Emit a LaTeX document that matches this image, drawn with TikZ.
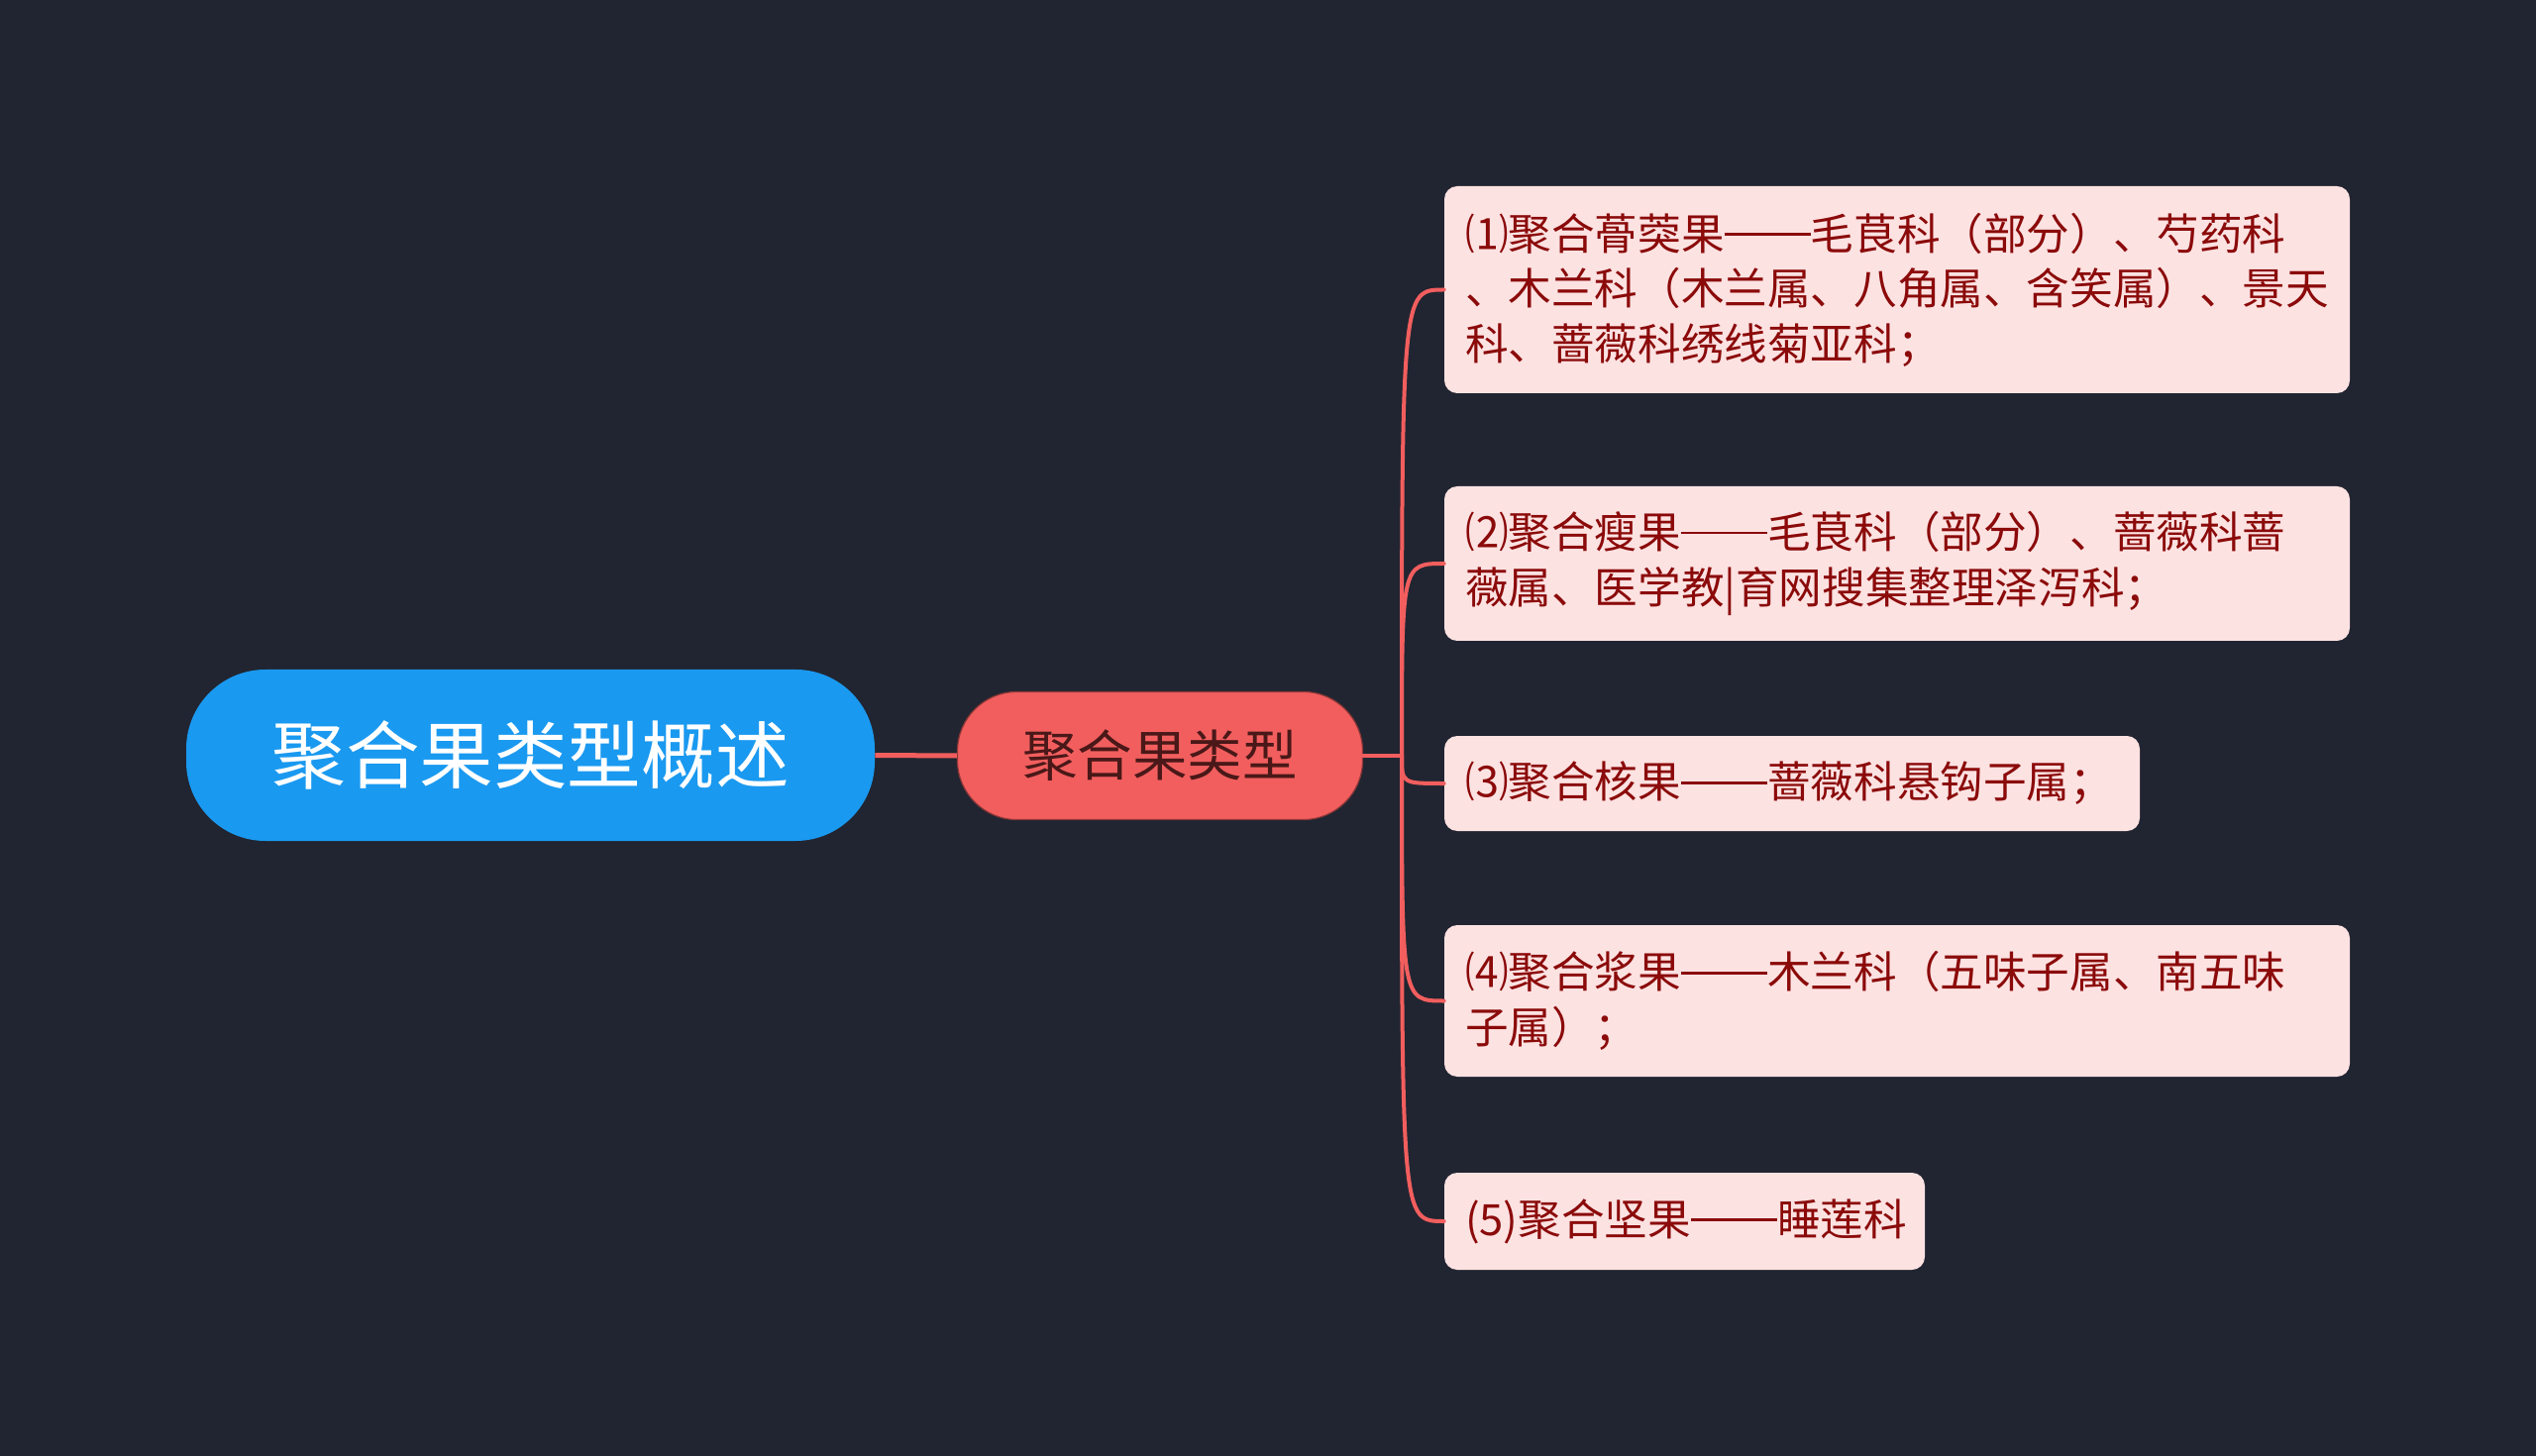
\documentclass[tikz,border=0pt]{standalone}
\usepackage{fontspec}
\newfontfamily\cjk{Noto Sans CJK SC}
\newcommand\ddash{\rule[0.33em]{2em}{0.055em}}
\definecolor{bgc}{HTML}{212531}
\definecolor{rootc}{HTML}{1A99F0}
\definecolor{mainc}{HTML}{F25E5E}
\definecolor{maintext}{HTML}{4A1818}
\definecolor{leaffill}{HTML}{FDE2E2}
\definecolor{leaftext}{HTML}{8B0A0A}
\definecolor{linec}{HTML}{F25E5E}
\tikzset{
  rootnode/.style={fill=rootc, text=white, rounded corners=40pt, minimum width=347.5pt, minimum height=86.5pt, inner sep=0pt, font=\cjk\fontsize{37.3pt}{44pt}\selectfont},
  mainnode/.style={fill=mainc, draw=mainc!60!black, line width=0.6pt, text=maintext, rounded corners=30pt, minimum width=204.5pt, minimum height=64.5pt, inner sep=0pt, font=\cjk\fontsize{27.75pt}{33pt}\selectfont},
  leafnode/.style={fill=leaffill, text=leaftext, rounded corners=6.5pt, inner xsep=10.5pt, inner ysep=0pt, align=left, font=\cjk\fontsize{21.8pt}{27.75pt}\selectfont},
  conn/.style={draw=linec, line width=2pt, line cap=round},
  rootconn/.style={draw=linec, line width=2.5pt},
}
\begin{document}
\begin{tikzpicture}[x=0.5pt, y=-0.5pt]
\useasboundingbox (0,0) rectangle (2560,1470);
\fill[bgc] (0,0) rectangle (2560,1470);
\node[rootnode] (root) at (535.5,762.5) {聚合果类型概述};
\node[mainnode] (main) at (1171,763) {聚合果类型};
\coordinate (trunk) at (1415,763);
\node[leafnode, text width=436pt, minimum height=104.5pt] (b1) at (1915,292.5) {⑴聚合蓇葖果\ddash 毛茛科（部分）、芍药科\\、木兰科（木兰属、八角属、含笑属）、景天\\科、蔷薇科绣线菊亚科；};
\node[leafnode, text width=436pt, minimum height=78pt] (b2) at (1915,569) {⑵聚合瘦果\ddash 毛茛科（部分）、蔷薇科蔷\\薇属、医学教|育网搜集整理泽泻科；};
\node[leafnode, text width=330pt, minimum height=48pt] (b3) at (1809,791) {⑶聚合核果\ddash 蔷薇科悬钩子属；};
\node[leafnode, text width=436pt, minimum height=76.5pt] (b4) at (1915,1010.5) {⑷聚合浆果\ddash 木兰科（五味子属、南五味\\子属）；};
\node[leafnode, text width=221.5pt, minimum height=49pt] (b5) at (1700.5,1233) {(5)聚合坚果\ddash 睡莲科};
\draw[rootconn] (root.east) -- (main.west);
\draw[conn] (main.east) -- (trunk);
\foreach \b in {b1,b2,b3,b4,b5}{
  \draw[conn] (trunk) .. controls (trunk |- \b.west) and (trunk |- \b.west) .. (\b.west);
}
\end{tikzpicture}
\end{document}
